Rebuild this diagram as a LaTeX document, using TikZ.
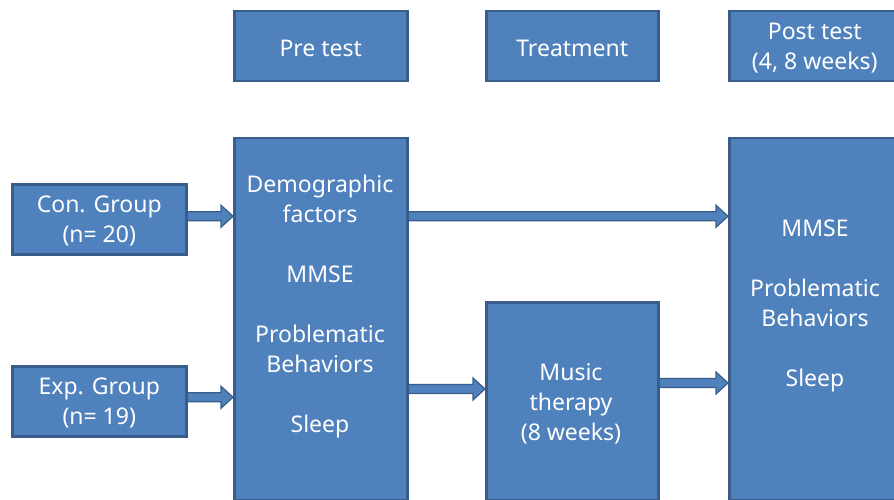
\documentclass[tikz,border=0pt]{standalone}
\usepackage{fontspec}
\setmainfont{Noto Sans}
\usetikzlibrary{calc}
\definecolor{boxfill}{HTML}{4F81BD}
\definecolor{boxline}{HTML}{385D8A}
\tikzset{
  box/.style={draw=boxline, fill=boxfill, line width=2.5pt, inner sep=0pt, anchor=north west},
  txt/.style={text=white, align=center, font=\fontsize{23}{30}\selectfont, inner sep=0pt},
  blockarrow/.style={draw=boxline, fill=boxfill, line width=1.2pt, line join=miter,
    to path={let \p1=(\tikztostart), \p2=(\tikztotarget) in
      (\x1,\y1+4.5pt) -- (\x2-12pt,\y1+4.5pt) -- (\x2-12pt,\y1+11pt) -- (\x2,\y1)
      -- (\x2-12pt,\y1-11pt) -- (\x2-12pt,\y1-4.5pt) -- (\x1,\y1-4.5pt) -- cycle}}
}
\begin{document}
\begin{tikzpicture}[x=1pt,y=-1pt]
\useasboundingbox (0,0) rectangle (894,500);
% header boxes
\node[box, minimum width=173pt, minimum height=70pt] (prehead) at (233,10) {};
\node[txt] (prehtxt) at ($(prehead.center)+(0,2)$) {Pre test};
\node[box, minimum width=172pt, minimum height=70pt] (treathead) at (485,10) {};
\node[txt] (treathtxt) at ($(treathead.center)+(0,2)$) {Treatment};
\node[box, minimum width=175pt, minimum height=70pt] (posthead) at (728,10) {};
\node[txt] (posthtxt) at ($(posthead.center)+(-2,2)$) {Post test\\(4, 8 weeks)};
% group boxes
\node[box, minimum width=174pt, minimum height=70pt] (con) at (11,183) {};
\node[txt] (contxt) at ($(con.center)+(0,2)$) {Con. Group\\(n= 20)};
\node[box, minimum width=174pt, minimum height=70pt] (exp) at (11,365) {};
\node[txt] (exptxt) at ($(exp.center)+(0,2)$) {Exp. Group\\(n= 19)};
% big boxes
\node[box, minimum width=173pt, minimum height=362pt] (pre) at (233,137) {};
\node[txt] (pretxt) at (320,307) {Demographic\\factors\\[30pt]MMSE\\[30pt]Problematic\\Behaviors\\[30pt]Sleep};
\node[box, minimum width=172pt, minimum height=198pt] (music) at (485,301) {};
\node[txt] (musictxt) at (571,404) {Music\\therapy\\(8 weeks)};
\node[box, minimum width=175pt, minimum height=362pt] (post) at (728,137) {};
\node[txt] (posttxt) at (815,306) {MMSE\\[30pt]Problematic\\Behaviors\\[30pt]Sleep};
% arrows
\coordinate (a1s) at ($(con.east)+(0,-3)$);
\coordinate (a1e) at (pre.west |- a1s);
\draw[blockarrow] (a1s) to (a1e);
\coordinate (a2s) at (pre.east |- a1s);
\coordinate (a2e) at (post.west |- a1s);
\draw[blockarrow] (a2s) to (a2e);
\coordinate (a3s) at ($(exp.east)+(0,-4)$);
\coordinate (a3e) at (pre.west |- a3s);
\draw[blockarrow] (a3s) to (a3e);
\coordinate (a4s) at (pre.east |- 0,389);
\coordinate (a4e) at (music.west |- a4s);
\draw[blockarrow] (a4s) to (a4e);
\coordinate (a5s) at (music.east |- 0,383);
\coordinate (a5e) at (post.west |- a5s);
\draw[blockarrow] (a5s) to (a5e);
\end{tikzpicture}
\end{document}
